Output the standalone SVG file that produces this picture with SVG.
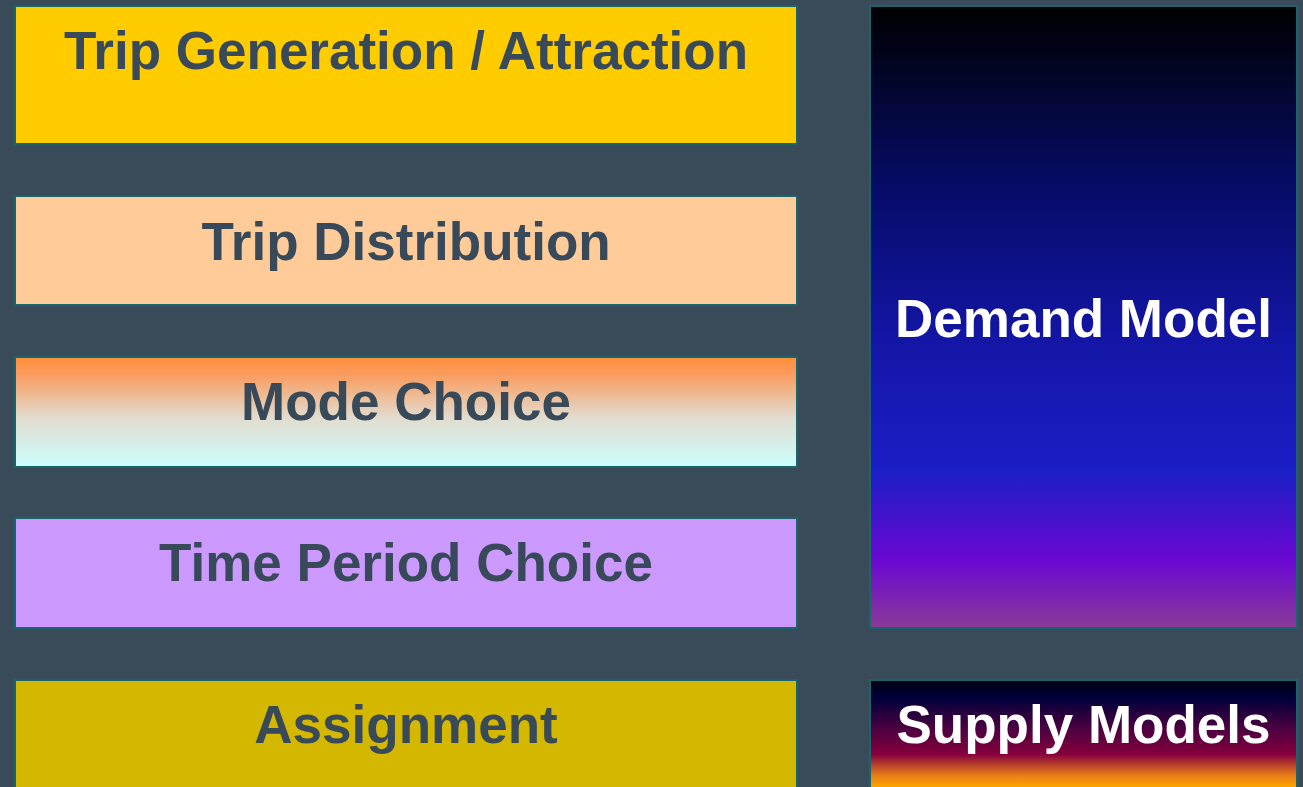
<svg xmlns="http://www.w3.org/2000/svg" width="1303" height="787" viewBox="0 0 1303 787">
<style>
.box{stroke:#17666e;stroke-width:2}
.lbl{font-family:"Liberation Sans",Arial,sans-serif;font-weight:bold;font-size:53px;text-anchor:middle;fill:#384a59}
.wl{fill:#ffffff}
</style>
<defs>
<linearGradient id="gMode" x1="0" y1="0" x2="0" y2="1">
<stop offset="0" stop-color="#ff8e3a"/>
<stop offset="0.15" stop-color="#fa9b5c"/>
<stop offset="0.55" stop-color="#e2dccf"/>
<stop offset="1" stop-color="#ccffff"/>
</linearGradient>
<linearGradient id="gDemand" x1="0" y1="0" x2="0" y2="1">
<stop offset="0" stop-color="#000000"/>
<stop offset="0.3" stop-color="#060c6a"/>
<stop offset="0.55" stop-color="#1416a8"/>
<stop offset="0.75" stop-color="#1c1ec6"/>
<stop offset="0.89" stop-color="#6a08d2"/>
<stop offset="1" stop-color="#8a3a98"/>
</linearGradient>
<linearGradient id="gSupply" x1="0" y1="0" x2="0" y2="1">
<stop offset="0" stop-color="#000010"/>
<stop offset="0.15" stop-color="#00003a"/>
<stop offset="0.42" stop-color="#500040"/>
<stop offset="0.62" stop-color="#85003c"/>
<stop offset="0.72" stop-color="#c04a28"/>
<stop offset="0.8" stop-color="#e88016"/>
<stop offset="0.9" stop-color="#ffa800"/>
<stop offset="1" stop-color="#ffb000"/>
</linearGradient>
</defs>
<rect x="0" y="0" width="1303" height="787" fill="#394b59"/>
<g id="trip-generation">
<rect class="box" x="15" y="6" width="782" height="138" fill="#ffcc00"/>
<text class="lbl" x="406" y="69">Trip Generation / Attraction</text>
</g>
<g id="trip-distribution">
<rect class="box" x="15" y="196" width="782" height="109" fill="#ffcc99"/>
<text class="lbl" x="406" y="260">Trip Distribution</text>
</g>
<g id="mode-choice">
<rect class="box" x="15" y="357" width="782" height="110" fill="url(#gMode)"/>
<text class="lbl" x="406" y="420">Mode Choice</text>
</g>
<g id="time-period-choice">
<rect class="box" x="15" y="518" width="782" height="110" fill="#cc99ff"/>
<text class="lbl" x="406" y="581">Time Period Choice</text>
</g>
<g id="assignment">
<rect class="box" x="15" y="680" width="782" height="120" fill="#d4b800"/>
<text class="lbl" x="406" y="743">Assignment</text>
</g>
<g id="demand-model">
<rect class="box" x="870" y="6" width="427" height="622" fill="url(#gDemand)"/>
<text class="lbl wl" x="1083.5" y="337">Demand Model</text>
</g>
<g id="supply-models">
<rect class="box" x="870" y="680" width="427" height="120" fill="url(#gSupply)"/>
<text class="lbl wl" x="1083.5" y="743">Supply Models</text>
</g>
<g id="connectors"></g>
</svg>
